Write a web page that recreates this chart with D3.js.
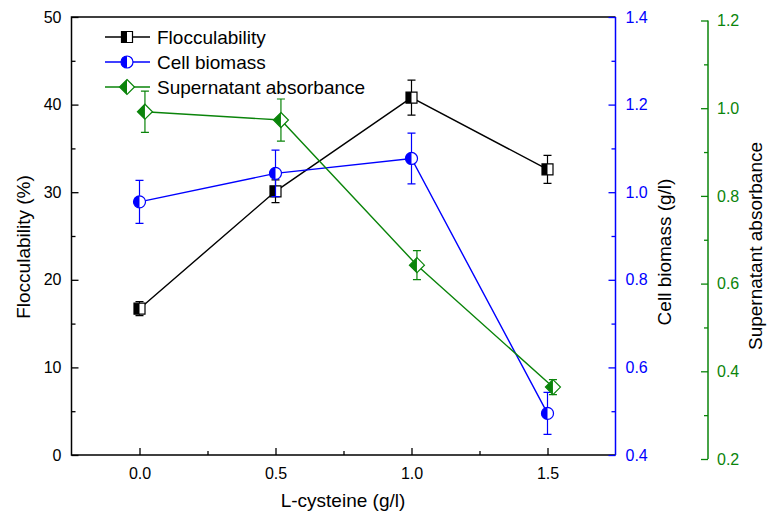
<!DOCTYPE html>
<html>
<head>
<meta charset="utf-8">
<script src="https://cdn.jsdelivr.net/npm/d3@7"></script>
<style>
  body { margin: 0; background: #fff; }
  svg { font-family: "Liberation Sans", Arial, Helvetica, sans-serif; }
</style>
</head>
<body>
<svg id="chart" width="768" height="518"></svg>
<script>
// data
const cysteine = [0, 0.5, 1.0, 1.5];
const cysteineShifted = [0.02, 0.52, 1.02, 1.52];
const flocculability = [16.7, 30.1, 40.8, 32.6];
const flocculabilityErr = [0.8, 1.3, 2.0, 1.6];
const biomass = [0.978, 1.043, 1.077, 0.495];
const biomassErr = [0.049, 0.053, 0.058, 0.048];
const absorbance = [0.992, 0.973, 0.642, 0.364];
const absorbanceErr = [0.047, 0.048, 0.033, 0.017];

const xTicks = [0, 0.5, 1.0, 1.5];
const leftTicks = [0, 10, 20, 30, 40, 50];
const blueTicks = [0.4, 0.6, 0.8, 1.0, 1.2, 1.4];
const greenTicks = [0.2, 0.4, 0.6, 0.8, 1.0, 1.2];

const BLUE = '#0000ff';
const GREEN = '#0a840a';

const svg = d3.select('#chart');

// scales
const x = d3.scaleLinear().domain([-0.25, 1.75]).range([71.5, 615.5]);
const yLeft = d3.scaleLinear().domain([0, 50]).range([455, 17]);
const yBlue = d3.scaleLinear().domain([0.4, 1.4]).range([455, 17]);
const yGreen = d3.scaleLinear().domain([0.2, 1.2]).range([459, 20.5]);

function styleAxis(g, color) {
  g.select('.domain').remove();
  g.selectAll('line').attr('stroke', color).attr('stroke-width', 1.3);
  g.selectAll('text').attr('fill', color).style('font-size', '16px');
}

// bottom axis (ticks point inward)
const xAxisG = svg.append('g').attr('transform', 'translate(0,455)')
    .call(d3.axisBottom(x).tickValues(xTicks).tickSize(-7).tickPadding(13)
      .tickFormat(d3.format('.1f')));
styleAxis(xAxisG, '#000');
svg.append('g').attr('transform', 'translate(0,455)')
    .call(d3.axisBottom(x).tickValues([0.25, 0.75, 1.25]).tickSize(-4).tickFormat(''))
    .call(g => styleAxis(g, '#000'));

// left axis
const yAxisG = svg.append('g').attr('transform', 'translate(71.5,0)')
    .call(d3.axisLeft(yLeft).tickValues(leftTicks).tickSize(-7).tickPadding(10));
styleAxis(yAxisG, '#000');
svg.append('g').attr('transform', 'translate(71.5,0)')
    .call(d3.axisLeft(yLeft).tickValues([5, 15, 25, 35, 45]).tickSize(-4).tickFormat(''))
    .call(g => styleAxis(g, '#000'));

// frame: left, bottom, top in black
svg.append('path')
    .attr('d', `M615.5,17H71.5V455H615.5`)
    .attr('fill', 'none').attr('stroke', '#000').attr('stroke-width', 1.5);

// blue right axis
const blueG = svg.append('g').attr('transform', 'translate(615.5,0)')
    .call(d3.axisRight(yBlue).tickValues(blueTicks).tickSize(-7).tickPadding(10)
      .tickFormat(d3.format('.1f')));
styleAxis(blueG, BLUE);
svg.append('g').attr('transform', 'translate(615.5,0)')
    .call(d3.axisRight(yBlue).tickValues([0.5, 0.7, 0.9, 1.1, 1.3]).tickSize(-4).tickFormat(''))
    .call(g => styleAxis(g, BLUE));
svg.append('line').attr('x1', 615.5).attr('x2', 615.5).attr('y1', 17).attr('y2', 455)
    .attr('stroke', BLUE).attr('stroke-width', 1.5);

// green offset axis
const greenG = svg.append('g').attr('transform', 'translate(708,0)')
    .call(d3.axisRight(yGreen).tickValues(greenTicks).tickSize(-7).tickPadding(9)
      .tickFormat(d3.format('.1f')));
styleAxis(greenG, GREEN);
svg.append('g').attr('transform', 'translate(708,0)')
    .call(d3.axisRight(yGreen).tickValues([0.3, 0.5, 0.7, 0.9, 1.1]).tickSize(-4).tickFormat(''))
    .call(g => styleAxis(g, GREEN));
svg.append('line').attr('x1', 708).attr('x2', 708).attr('y1', yGreen(1.2)).attr('y2', yGreen(0.2))
    .attr('stroke', GREEN).attr('stroke-width', 1.5);

// axis titles
svg.append('text').attr('x', 343).attr('y', 507).attr('text-anchor', 'middle')
    .style('font-size', '19px').text('L-cysteine (g/l)');
svg.append('text').attr('transform', 'translate(30,247) rotate(-90)').attr('text-anchor', 'middle')
    .style('font-size', '19px').text('Flocculability (%)');
svg.append('text').attr('transform', 'translate(671,252) rotate(-90)').attr('text-anchor', 'middle')
    .style('font-size', '19px').text('Cell biomass (g/l)');
svg.append('text').attr('transform', 'translate(762,246) rotate(-90)').attr('text-anchor', 'middle')
    .style('font-size', '19px').text('Supernatant absorbance');

// half-filled marker shapes
const shapes = {
  square: { full: 'M-5.5,-5.5H5.5V5.5H-5.5Z', half: 'M0,-5.5H-5.5V5.5H0Z' },
  circle: { full: 'M0,-6A6,6 0 1,1 0,6A6,6 0 1,1 0,-6Z', half: 'M0,-6A6,6 0 0,0 0,6Z' },
  diamond: { full: 'M0,-7.5L7.5,0L0,7.5L-7.5,0Z', half: 'M0,-7.5L-7.5,0L0,7.5Z' }
};

function drawMarker(g, shape, color) {
  g.append('path').attr('d', shapes[shape].full)
      .attr('fill', '#fff').attr('stroke', color).attr('stroke-width', 1.2);
  g.append('path').attr('d', shapes[shape].half).attr('fill', color);
}

const series = [
  { name: 'Flocculability', xs: cysteine, ys: flocculability, err: flocculabilityErr, scale: yLeft, color: '#000', shape: 'square' },
  { name: 'Cell biomass', xs: cysteine, ys: biomass, err: biomassErr, scale: yBlue, color: BLUE, shape: 'circle' },
  { name: 'Supernatant absorbance', xs: cysteineShifted, ys: absorbance, err: absorbanceErr, scale: yGreen, color: GREEN, shape: 'diamond' }
];

series.forEach(function(s) {
  const pts = s.xs.map((v, i) => ({ x: v, y: s.ys[i], e: s.err[i] }));
  const g = svg.append('g');

  g.append('path').datum(pts)
      .attr('d', d3.line().x(d => x(d.x)).y(d => s.scale(d.y)))
      .attr('fill', 'none').attr('stroke', s.color).attr('stroke-width', 1.4);

  // error bars
  pts.forEach(function(d) {
    const cx = x(d.x), top = s.scale(d.y + d.e), bot = s.scale(d.y - d.e);
    g.append('path')
        .attr('d', `M${cx},${top}V${bot}M${cx - 4},${top}H${cx + 4}M${cx - 4},${bot}H${cx + 4}`)
        .attr('fill', 'none').attr('stroke', s.color).attr('stroke-width', 1.2);
  });

  pts.forEach(function(d) {
    const m = g.append('g').attr('transform', `translate(${x(d.x)},${s.scale(d.y)})`);
    drawMarker(m, s.shape, s.color);
  });
});

// legend
const legend = svg.append('g');
series.forEach(function(s, i) {
  const ly = 37 + i * 25;
  legend.append('line').attr('x1', 105).attr('x2', 150).attr('y1', ly).attr('y2', ly)
      .attr('stroke', s.color).attr('stroke-width', 1.4);
  drawMarker(legend.append('g').attr('transform', `translate(127,${ly})`), s.shape, s.color);
  legend.append('text').attr('x', 157).attr('y', ly + 7).style('font-size', '19px').text(s.name);
});
</script>
</body>
</html>
